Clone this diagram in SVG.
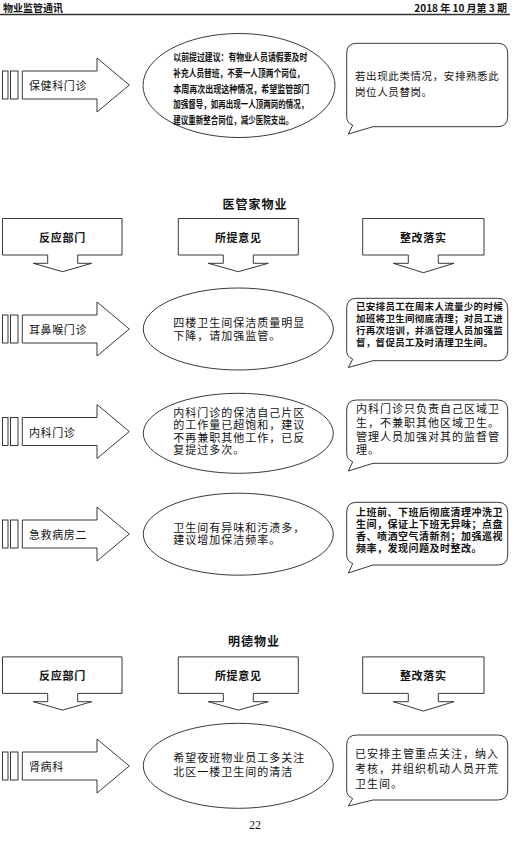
<svg xmlns="http://www.w3.org/2000/svg" width="523" height="849" viewBox="0 0 523 849">
<style>
text{font-family:"Noto Sans CJK SC","Liberation Sans",sans-serif;fill:#111;dominant-baseline:central}
.sh{fill:#fff;stroke:#222;stroke-width:0.9}
.b{font-weight:bold}
.t11{font-size:11px;letter-spacing:0.6px}
.hd{font-size:11px;font-weight:bold;letter-spacing:0.7px;text-anchor:middle}
.sec{font-size:12px;font-weight:bold;letter-spacing:1px;text-anchor:middle}
</style>
<defs>
<g id="blk">
<rect class="sh" x="2.5" y="-14" width="5.5" height="28"/>
<rect class="sh" x="10.5" y="-14" width="7.5" height="28"/>
<path class="sh" d="M22.3,-14 H97 V-27 L129.3,0 L97,27 V14 H22.3 Z"/>
</g>
<g id="hdr">
<path class="sh" d="M2.5,218.5 H122 V255 H77.7 V263.3 H91.7 L62.7,271.7 L33.3,263.3 H47.7 V255 H2.5 Z"/>
<path class="sh" d="M178.3,218.5 H298.3 V255 H253.3 V263.3 H268.3 L238.3,271.7 L208.3,263.3 H223.3 V255 H178.3 Z"/>
<path class="sh" d="M362.7,218.5 H484 V255 H438.3 V263.3 H454 L423.3,272.7 L393.3,263.3 H408.3 V255 H362.7 Z"/>
<text class="hd" x="62.5" y="236.7">反应部门</text>
<text class="hd" x="238.3" y="236.7">所提意见</text>
<text class="hd" x="423.3" y="236.7">整改落实</text>
</g>
</defs>

<g id="header">
<text class="b" x="3" y="7.5" font-size="10">物业监管通讯</text>
<text class="b" x="507" y="7.5" font-size="10" text-anchor="end">2018 年 10 月第 3 期</text>
<line x1="0" y1="14.5" x2="510" y2="14.5" stroke="#333" stroke-width="1.3"/>
</g>

<g id="connectors">
<use href="#blk" y="85"/>
<use href="#blk" y="329"/>
<use href="#blk" y="431.5"/>
<use href="#blk" y="534"/>
<use href="#blk" y="766"/>
</g>

<g id="dept-baojian">
<text class="t11" x="29" y="85">保健科门诊</text>
</g>
<g id="opinion-baojian">
<ellipse class="sh" cx="239" cy="85.5" rx="96" ry="52"/>
<g class="b" font-size="10">
<text x="173.3" y="56.7" textLength="134" lengthAdjust="spacingAndGlyphs">以前提过建议：有物业人员请假要及时</text>
<text x="173.3" y="72.5" textLength="131" lengthAdjust="spacingAndGlyphs">补充人员替班，不要一人顶两个岗位，</text>
<text x="173.3" y="88.3" textLength="136" lengthAdjust="spacingAndGlyphs">本周再次出现这种情况，希望监管部门</text>
<text x="173.3" y="103.5" textLength="135" lengthAdjust="spacingAndGlyphs">加强督导，如再出现一人顶两岗的情况，</text>
<text x="173.3" y="119.3" textLength="120" lengthAdjust="spacingAndGlyphs">建议重新整合岗位，减少医院支出。</text>
</g>
</g>
<g id="fix-baojian">
<path class="sh" d="M356.7,43.3 H497.7 Q507.7,43.3 507.7,53.3 V116.7 Q507.7,126.7 497.7,126.7 H373 L348.3,134 L352.7,125.2 Q346.7,122.7 346.7,116.7 V53.3 Q346.7,43.3 356.7,43.3 Z"/>
<text x="355" y="75" font-size="10.5" letter-spacing="0.6">若出现此类情况，安排熟悉此</text>
<text x="355" y="91.5" font-size="10.5" letter-spacing="0.6">岗位人员替岗。</text>
</g>

<g id="section-yiguanjia">
<text class="sec" x="255" y="203">医管家物业</text>
<use href="#hdr"/>
</g>

<g id="dept-erbihou">
<text class="t11" x="29" y="329">耳鼻喉门诊</text>
</g>
<g id="opinion-erbihou">
<ellipse class="sh" cx="238.3" cy="329" rx="95" ry="41"/>
<text x="173.3" y="322" font-size="11" letter-spacing="1">四楼卫生间保洁质量明显</text>
<text x="173.3" y="335" font-size="11" letter-spacing="1">下降，请加强监管。</text>
</g>
<g id="fix-erbihou">
<path class="sh" d="M356.7,298.3 H497.7 Q507.7,298.3 507.7,308.3 V350.7 Q507.7,360.7 497.7,360.7 H373 L348.3,367.5 L352.7,359.2 Q346.7,356.7 346.7,350.7 V308.3 Q346.7,298.3 356.7,298.3 Z"/>
<g class="b" font-size="9.5" letter-spacing="0.3">
<text x="356" y="305.8">已安排员工在周末人流量少的时候</text>
<text x="356" y="317.6">加班将卫生间彻底清理；对员工进</text>
<text x="356" y="329.5">行再次培训，并派管理人员加强监</text>
<text x="356" y="341.5">督，督促员工及时清理卫生间。</text>
</g>
</g>

<g id="dept-neike">
<text class="t11" x="29" y="431.5">内科门诊</text>
</g>
<g id="opinion-neike">
<ellipse class="sh" cx="238.3" cy="433.3" rx="95" ry="40"/>
<g font-size="11" letter-spacing="1">
<text x="173.3" y="411.7">内科门诊的保洁自己片区</text>
<text x="173.3" y="424.3">的工作量已超饱和，建议</text>
<text x="173.3" y="436.7">不再兼职其他工作，已反</text>
<text x="173.3" y="449">复提过多次。</text>
</g>
</g>
<g id="fix-neike">
<path class="sh" d="M356.7,400 H497.7 Q507.7,400 507.7,410 V453.3 Q507.7,463.3 497.7,463.3 H373 L348.3,471 L352.7,461.8 Q346.7,459.3 346.7,453.3 V410 Q346.7,400 356.7,400 Z"/>
<g font-size="11" letter-spacing="1">
<text x="356" y="408.3">内科门诊只负责自己区域卫</text>
<text x="356" y="422">生，不兼职其他区域卫生。</text>
<text x="356" y="435.7">管理人员加强对其的监督管</text>
<text x="356" y="449.2">理。</text>
</g>
</g>

<g id="dept-jijiu">
<text class="t11" x="29" y="534">急救病房二</text>
</g>
<g id="opinion-jijiu">
<ellipse class="sh" cx="238.3" cy="534.2" rx="95" ry="41"/>
<text x="173.3" y="526.7" font-size="11" letter-spacing="1">卫生间有异味和污渍多，</text>
<text x="173.3" y="539.3" font-size="11" letter-spacing="1">建议增加保洁频率。</text>
</g>
<g id="fix-jijiu">
<path class="sh" d="M356.7,502.3 H497.7 Q507.7,502.3 507.7,512.3 V555 Q507.7,565 497.7,565 H373 L348.3,573 L352.7,563.5 Q346.7,561 346.7,555 V512.3 Q346.7,502.3 356.7,502.3 Z"/>
<g class="b" font-size="10" letter-spacing="0.5">
<text x="356" y="511">上班前、下班后彻底清理冲洗卫</text>
<text x="356" y="523">生间，保证上下班无异味；点盘</text>
<text x="356" y="535">香、喷洒空气清新剂；加强巡视</text>
<text x="356" y="547.3">频率，发现问题及时整改。</text>
</g>
</g>

<g id="section-mingde">
<text class="sec" x="254" y="640">明德物业</text>
<use href="#hdr" y="438.4"/>
</g>

<g id="dept-shenbing">
<text class="t11" x="29" y="766">肾病科</text>
</g>
<g id="opinion-shenbing">
<ellipse class="sh" cx="238.3" cy="765.8" rx="95" ry="42.5"/>
<text x="173.3" y="757.3" font-size="11" letter-spacing="1">希望夜班物业员工多关注</text>
<text x="173.3" y="770.7" font-size="11" letter-spacing="1">北区一楼卫生间的清洁</text>
</g>
<g id="fix-shenbing">
<path class="sh" d="M356.7,735 H497.7 Q507.7,735 507.7,745 V790 Q507.7,800 497.7,800 H373 L348.3,806 L352.7,798.5 Q346.7,796 346.7,790 V745 Q346.7,735 356.7,735 Z"/>
<g font-size="11" letter-spacing="1">
<text x="355" y="753.3">已安排主管重点关注，纳入</text>
<text x="355" y="768.3">考核，并组织机动人员开荒</text>
<text x="355" y="783.3">卫生间。</text>
</g>
</g>

<text x="255" y="825" font-family="Liberation Serif,serif" font-size="12" text-anchor="middle" style="font-family:'Liberation Serif',serif">22</text>
</svg>
